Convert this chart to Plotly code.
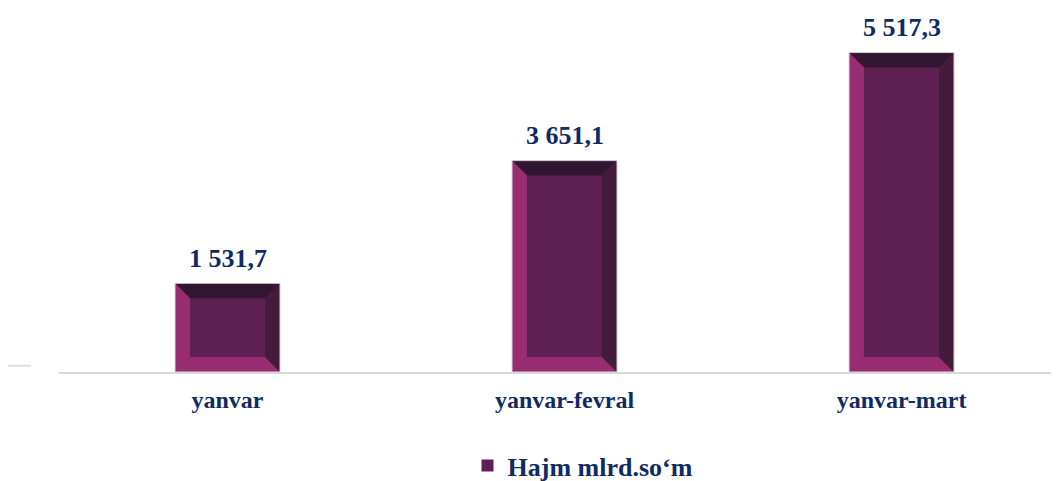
import plotly.graph_objects as go

categories = ["yanvar", "yanvar-fevral", "yanvar-mart"]
values = [1531.7, 3651.1, 5517.3]
value_labels = ["1 531,7", "3 651,1", "5 517,3"]
series_name = "Hajm mlrd.so‘m"

NAVY = "#0f2b62"
C_CENTER = "#5e1f52"
C_TOP = "#321531"
C_LEFT = "#9a2d72"
C_BOTTOM = "#962d70"
C_RIGHT = "#451b3c"
OUTLINE = "#d6d6d6"

W, H = 1059, 481
ML, MR, MT, MB = 51, 0, 0, 117
X_RANGE = [-0.5, 2.491]
Y_RANGE = [0, 6287]
BAR_W = 0.3116
BEVEL_PX = 15

plot_w = W - ML - MR
plot_h = H - MT - MB
bx = BEVEL_PX * (X_RANGE[1] - X_RANGE[0]) / plot_w
by = BEVEL_PX * (Y_RANGE[1] - Y_RANGE[0]) / plot_h

xs = list(range(len(categories)))

fig = go.Figure()
fig.add_trace(go.Bar(
    x=xs, y=values, width=BAR_W, name=series_name,
    marker=dict(color=C_CENTER, line=dict(width=0)),
    showlegend=True, hoverinfo="y",
))


def path(pts):
    return "M " + " L ".join(f"{px},{py}" for px, py in pts) + " Z"


shapes = []
for x, v in zip(xs, values):
    x0, x1 = x - BAR_W / 2, x + BAR_W / 2
    y0, y1 = 0, v
    b = min(by, v / 2)
    shapes.append(dict(type="path", path=path([(x0, y1), (x1, y1), (x1 - bx, y1 - b), (x0 + bx, y1 - b)]),
                       fillcolor=C_TOP, line=dict(width=0), xref="x", yref="y", layer="above"))
    shapes.append(dict(type="path", path=path([(x0, y0), (x0, y1), (x0 + bx, y1 - b), (x0 + bx, y0 + b)]),
                       fillcolor=C_LEFT, line=dict(width=0), xref="x", yref="y", layer="above"))
    shapes.append(dict(type="path", path=path([(x0, y0), (x1, y0), (x1 - bx, y0 + b), (x0 + bx, y0 + b)]),
                       fillcolor=C_BOTTOM, line=dict(width=0), xref="x", yref="y", layer="above"))
    shapes.append(dict(type="path", path=path([(x1, y0), (x1, y1), (x1 - bx, y1 - b), (x1 - bx, y0 + b)]),
                       fillcolor=C_RIGHT, line=dict(width=0), xref="x", yref="y", layer="above"))
    shapes.append(dict(type="rect", x0=x0, x1=x1, y0=y0, y1=y1, xref="x", yref="y",
                       line=dict(color=OUTLINE, width=1), fillcolor="rgba(0,0,0,0)", layer="above"))

# small stray tick at left
ty = (plot_h - 357.7) / plot_h
shapes.append(dict(type="line", xref="paper", yref="paper",
                   x0=-51 / plot_w, x1=-28 / plot_w, y0=ty, y1=ty,
                   line=dict(color="#dedede", width=2)))

annotations = []
for x, v, t in zip(xs, values, value_labels):
    annotations.append(dict(x=x, y=v, text=t, showarrow=False, xref="x", yref="y",
                            yanchor="middle", yshift=25,
                            font=dict(family="Liberation Serif", size=26, color=NAVY, weight="bold")))

fig.update_layout(
    width=W, height=H,
    margin=dict(l=ML, r=MR, t=MT, b=MB),
    paper_bgcolor="white", plot_bgcolor="white",
    shapes=shapes, annotations=annotations,
    showlegend=True,
    legend=dict(orientation="h", x=(583 - 8 - ML) / plot_w, xanchor="center",
                y=(plot_h - 458) / plot_h, yanchor="middle",
                font=dict(family="Liberation Serif", size=26, color=NAVY, weight="bold"),
                itemwidth=30),
    xaxis=dict(range=X_RANGE, tickvals=xs, ticktext=categories,
               tickfont=dict(family="Liberation Serif", size=24, color=NAVY, weight="bold"),
               showline=True, linecolor="#d9d9d9", linewidth=2, showgrid=False, zeroline=False,
               ticks="", ticklabelstandoff=5, fixedrange=True),
    yaxis=dict(range=Y_RANGE, showticklabels=False, showgrid=False, zeroline=False,
               showline=False, fixedrange=True),
)

fig.write_html("out.html")
